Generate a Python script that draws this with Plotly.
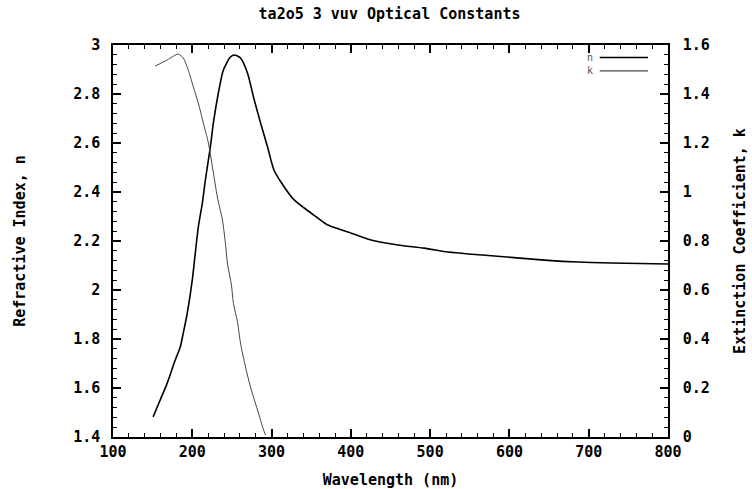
import plotly.graph_objects as go

# n (refractive index) data, left axis
n_wl = [150.6, 159.5, 168.4, 178.5, 184.8, 188.6, 193.7, 200.0, 203.8, 207.6, 212.7, 216.5,
        222.8, 226.6, 232.9, 239.2, 248.1, 253.2, 260.8, 269.6, 277.2, 286.1, 294.9, 303.0,
        312.0, 327.8, 353.2, 370.9, 396.2, 425.3, 459.5, 492.4, 522.8, 548.1, 581.0, 644.3,
        687.3, 729.1, 800.0]
n_val = [1.482, 1.551, 1.620, 1.714, 1.767, 1.824, 1.906, 2.041, 2.151, 2.257, 2.355, 2.449,
         2.584, 2.682, 2.804, 2.898, 2.951, 2.959, 2.947, 2.886, 2.788, 2.682, 2.584, 2.49,
         2.44, 2.37, 2.306, 2.265, 2.237, 2.204, 2.184, 2.171, 2.155, 2.147, 2.139, 2.122,
         2.114, 2.110, 2.106]

# k (extinction coefficient) data, right axis
k_wl = [153.2, 168.4, 182.3, 188.6, 194.9, 201.3, 207.6, 213.9, 220.3, 226.6, 231.6, 238.0,
        241.8, 244.3, 249.4, 251.9, 257.0, 260.8, 267.1, 273.4, 282.3, 289.9, 292.4]
k_val = [1.514, 1.539, 1.563, 1.547, 1.498, 1.429, 1.363, 1.282, 1.200, 1.078, 0.980, 0.886,
         0.790, 0.710, 0.620, 0.545, 0.470, 0.384, 0.286, 0.204, 0.110, 0.029, 0.008]

title_text = "ta2o5 3 vuv Optical Constants"
x_title = "Wavelength (nm)"
y_title = "Refractive Index, n"
y2_title = "Extinction Coefficient, k"

FONT = dict(family="DejaVu Sans Mono", size=15, color="black", weight="bold")

fig = go.Figure()
fig.add_trace(go.Scatter(x=n_wl, y=n_val, mode="lines", name="n",
                         line=dict(color="black", width=1.6, shape="spline", smoothing=0.7),
                         yaxis="y"))
fig.add_trace(go.Scatter(x=k_wl, y=k_val, mode="lines", name="k",
                         line=dict(color="#444444", width=1, shape="spline", smoothing=0.7),
                         yaxis="y2"))

axis_common = dict(showgrid=False, zeroline=False, showline=True, linecolor="black",
                   linewidth=1.5, ticks="inside", ticklen=8, tickwidth=1.5, tickcolor="black",
                   tickfont=FONT, automargin=False)
minor_common = dict(ticks="inside", ticklen=4, tickwidth=1.2, tickcolor="black")

fig.update_layout(
    width=752, height=489,
    margin=dict(l=113, r=84, t=45, b=52),
    paper_bgcolor="white", plot_bgcolor="white",
    showlegend=False,
    title=dict(text=title_text, x=0.518, xanchor="center", y=0.972, yanchor="middle",
               font=FONT),
    xaxis=dict(range=[100, 800], tick0=100, dtick=100, mirror="ticks",
               minor=dict(dtick=20, **minor_common),
               title=dict(text=x_title, font=FONT, standoff=16),
               **axis_common),
    yaxis=dict(range=[1.4, 3.0], tick0=1.4, dtick=0.2, ticklabelstandoff=8,
               minor=dict(dtick=0.04, **minor_common),
               title=dict(text=y_title, font=FONT, standoff=44),
               **axis_common),
    yaxis2=dict(range=[0, 1.6], tick0=0, dtick=0.2, overlaying="y", side="right",
                ticklabelstandoff=10,
                minor=dict(dtick=0.04, **minor_common),
                title=dict(text=y2_title, font=FONT, standoff=26),
                **axis_common),
)

# legend drawn as text left of line samples (top-right inside)
legend_items = [("n", "black", 1.6), ("k", "#444444", 1.2)]
for i, (lab, col, w) in enumerate(legend_items):
    yy = 0.968 - i * 0.034
    fig.add_annotation(xref="paper", yref="paper", x=0.868, y=yy, text=lab, showarrow=False,
                       xanchor="right", yanchor="middle",
                       font=dict(family="DejaVu Sans Mono", size=10, color="#555555"))
    fig.add_shape(type="line", xref="paper", yref="paper", x0=0.877, x1=0.964, y0=yy, y1=yy,
                  line=dict(color=col, width=w))

fig.write_html("out.html")
